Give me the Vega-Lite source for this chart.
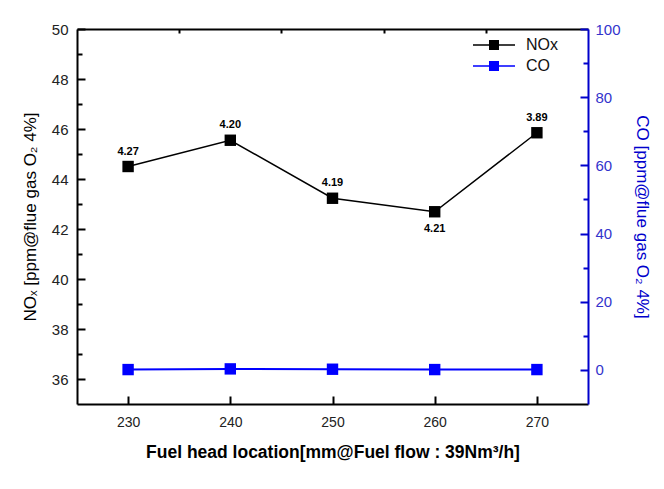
{
  "$schema": "https://vega.github.io/schema/vega-lite/v6.json",
  "width": 511,
  "height": 375,
  "autosize": {"type": "none"},
  "padding": {"left": 77, "top": 29, "right": 76, "bottom": 85},
  "background": "white",
  "config": {
    "view": {"stroke": null},
    "font": "Liberation Sans",
    "axis": {
      "grid": false,
      "domainColor": "black",
      "domainWidth": 2,
      "tickColor": "black",
      "tickWidth": 2,
      "labelFont": "Liberation Sans",
      "titleFont": "Liberation Sans",
      "labelColor": "#222222",
      "titleColor": "black"
    }
  },
  "data": {
    "values": [
      {"x": 230, "NOx": 44.5, "CO": 0.1, "O2": 4.27},
      {"x": 240, "NOx": 45.55, "CO": 0.3, "O2": 4.20},
      {"x": 250, "NOx": 43.23, "CO": 0.2, "O2": 4.19},
      {"x": 260, "NOx": 42.69, "CO": 0.1, "O2": 4.21},
      {"x": 270, "NOx": 45.85, "CO": 0.1, "O2": 3.89}
    ]
  },
  "encoding": {
    "x": {"field": "x", "type": "quantitative", "scale": {"domain": [225, 275]}, "axis": null}
  },
  "layer": [
    {
      "mark": {"type": "line", "strokeWidth": 1.5},
      "encoding": {
        "x": {
          "field": "x", "type": "quantitative", "scale": {"domain": [225, 275]},
          "axis": {
            "values": [230, 240, 250, 260, 270],
            "tickSize": -8,
            "labelPadding": 19,
            "labelFontSize": 14,
            "title": "Fuel head location[mm@Fuel flow : 39Nm³/h]",
            "titleFontSize": 17.5,
            "titleFontWeight": "bold",
            "titlePadding": 14
          }
        },
        "y": {
          "field": "NOx", "type": "quantitative",
          "scale": {"domain": [35, 50], "zero": false},
          "axis": {
            "orient": "left",
            "values": [36, 38, 40, 42, 44, 46, 48, 50],
            "tickSize": -8,
            "labelPadding": 17,
            "labelFontSize": 15,
            "title": "NOₓ [ppm@flue gas O₂ 4%]",
            "titleFontSize": 17,
            "titleFontWeight": "normal",
            "titlePadding": 12
          }
        },
        "color": {
          "datum": "NOx",
          "scale": {"domain": ["NOx", "CO"], "range": ["#000000", "#0000ff"]},
          "legend": {
            "title": null,
            "orient": "none",
            "legendX": 409,
            "legendY": 8,
            "padding": 0,
            "symbolType": "M-4.2,0H4.2M-0.85,-0.85H0.85V0.85H-0.85Z",
            "symbolSize": 100,
            "symbolStrokeWidth": 1.5,
            "labelFontSize": 16,
            "labelFont": "Liberation Sans",
            "labelColor": "#111111",
            "labelOffset": 24,
            "rowPadding": 5,
            "encode": {
              "symbols": {
                "update": {
                  "fill": {"scale": "color", "field": "value"},
                  "stroke": {"scale": "color", "field": "value"},
                  "opacity": {"value": 1}
                }
              }
            }
          }
        }
      }
    },
    {
      "mark": {"type": "point", "shape": "square", "filled": true, "size": 130, "color": "black", "opacity": 1},
      "encoding": {
        "y": {"field": "NOx", "type": "quantitative", "scale": {"domain": [35, 50], "zero": false}, "axis": null}
      }
    },
    {
      "transform": [{"filter": "datum.x != 260"}],
      "mark": {"type": "text", "fontSize": 11, "fontWeight": "bold", "dy": -15, "color": "black"},
      "encoding": {
        "y": {"field": "NOx", "type": "quantitative", "scale": {"domain": [35, 50], "zero": false}, "axis": null},
        "text": {"field": "O2", "type": "quantitative", "format": ".2f"}
      }
    },
    {
      "transform": [{"filter": "datum.x == 260"}],
      "mark": {"type": "text", "fontSize": 11, "fontWeight": "bold", "dy": 17, "color": "black"},
      "encoding": {
        "y": {"field": "NOx", "type": "quantitative", "scale": {"domain": [35, 50], "zero": false}, "axis": null},
        "text": {"field": "O2", "type": "quantitative", "format": ".2f"}
      }
    },
    {
      "mark": {"type": "point", "opacity": 0},
      "encoding": {
        "x": {
          "field": "x", "type": "quantitative", "scale": {"domain": [225, 275]},
          "axis": {"values": [235, 245, 255, 265], "tickSize": -4, "labels": false, "domain": false, "title": null}
        },
        "y": {
          "field": "NOx", "type": "quantitative", "scale": {"domain": [35, 50], "zero": false},
          "axis": {"orient": "left", "values": [37, 39, 41, 43, 45, 47, 49], "tickSize": -5, "labels": false, "domain": false, "title": null}
        }
      }
    },
    {
      "mark": {"type": "point", "opacity": 0},
      "encoding": {
        "x": {
          "field": "x", "type": "quantitative", "scale": {"domain": [225, 275]},
          "axis": {"orient": "top", "ticks": false, "labels": false, "domain": true, "title": null}
        },
        "y": {"field": "NOx", "type": "quantitative", "scale": {"domain": [35, 50], "zero": false}, "axis": null}
      }
    },
    {
      "mark": {"type": "line", "strokeWidth": 2},
      "encoding": {
        "y": {
          "field": "CO", "type": "quantitative",
          "scale": {"domain": [-10, 100]},
          "axis": {
            "orient": "right",
            "values": [0, 20, 40, 60, 80, 100],
            "tickSize": -8,
            "labelPadding": 15,
            "labelFontSize": 15,
            "labelColor": "#3333cc",
            "domainColor": "#0000cc",
            "tickColor": "#0000cc",
            "title": "CO [ppm@flue gas O₂ 4%]",
            "titleColor": "#0000cc",
            "titleFontSize": 17,
            "titleFontWeight": "normal",
            "titlePadding": 12
          }
        },
        "color": {
          "datum": "CO",
          "scale": {"domain": ["NOx", "CO"], "range": ["#000000", "#0000ff"]}
        }
      }
    },
    {
      "mark": {"type": "point", "shape": "square", "filled": true, "size": 130, "color": "#0000ff", "opacity": 1},
      "encoding": {
        "y": {"field": "CO", "type": "quantitative", "scale": {"domain": [-10, 100]}, "axis": null}
      }
    },
    {
      "mark": {"type": "point", "opacity": 0},
      "encoding": {
        "y": {
          "field": "CO", "type": "quantitative", "scale": {"domain": [-10, 100]},
          "axis": {"orient": "right", "values": [10, 30, 50, 70, 90], "tickSize": -5, "tickColor": "#0000cc", "labels": false, "domain": false, "title": null}
        }
      }
    }
  ],
  "resolve": {"scale": {"y": "independent"}, "axis": {"x": "independent"}}
}
